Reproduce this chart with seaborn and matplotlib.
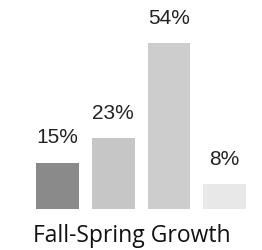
import matplotlib
matplotlib.use("Agg")
import matplotlib.pyplot as plt
import seaborn as sns
import pandas as pd

# values
categories = ["A", "B", "C", "D"]
values = [15, 23, 54, 8]
labels = ["15%", "23%", "54%", "8%"]
bar_colors = ["#8a8a8a", "#c6c6c6", "#cdcdcd", "#e8e8e8"]
title = "Fall-Spring Growth"

sns.set_theme(style="white")

df = pd.DataFrame({"cat": categories, "val": values})

fig = plt.figure(figsize=(2.62, 2.51), dpi=100)
ax = fig.add_axes([29.6 / 262, 41 / 251, 223 / 262, 210 / 251])

sns.barplot(data=df, x="cat", y="val", hue="cat", palette=bar_colors,
            width=0.77, legend=False, ax=ax, saturation=1)

for bar, lab in zip(ax.patches, labels):
    bar.set_edgecolor("none")
    ax.annotate(lab, (bar.get_x() + bar.get_width() / 2, bar.get_height()),
                xytext=(0, 12), textcoords="offset points",
                ha="center", va="bottom", fontsize=15,
                family="Liberation Sans", color="#222222")

ax.set_xlim(-0.5, 3.5)
ax.set_ylim(0, 68.4)
ax.set_xlabel("")
ax.set_ylabel("")
ax.set_xticks([])
ax.set_yticks([])
sns.despine(ax=ax, left=True, bottom=True)

fig.text(132 / 262, 1 - 236 / 251, title, ha="center", va="center",
         fontsize=16.5, family="Open Sans", fontweight="medium", color="#111111")

fig.savefig("out.png", dpi=100)
